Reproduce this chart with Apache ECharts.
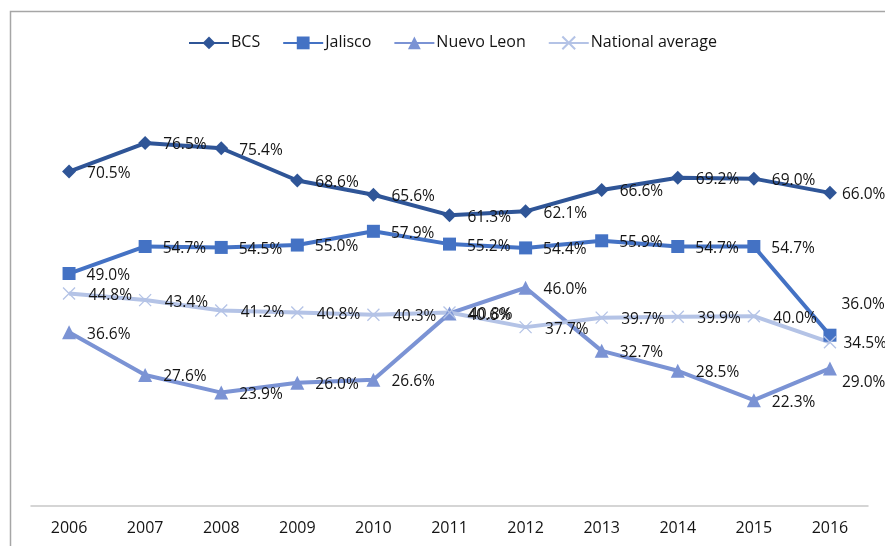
<!DOCTYPE html>
<html>
<head>
<meta charset="utf-8">
<script src="https://cdn.jsdelivr.net/npm/echarts@6/dist/echarts.min.js"></script>
<style>
  html, body { margin: 0; padding: 0; background: #fff; }
  #chart { width: 885px; height: 546px; }
</style>
</head>
<body>
<div id="chart"></div>
<script>
const years = ["2006", "2007", "2008", "2009", "2010", "2011", "2012", "2013", "2014", "2015", "2016"];
const bcs = [70.5, 76.5, 75.4, 68.6, 65.6, 61.3, 62.1, 66.6, 69.2, 69.0, 66.0];
const jalisco = [49.0, 54.7, 54.5, 55.0, 57.9, 55.2, 54.4, 55.9, 54.7, 54.7, 36.0];
const nuevoLeon = [36.6, 27.6, 23.9, 26.0, 26.6, 40.6, 46.0, 32.7, 28.5, 22.3, 29.0];
const national = [44.8, 43.4, 41.2, 40.8, 40.3, 40.8, 37.7, 39.7, 39.9, 40.0, 34.5];

const font = "'Open Sans', 'Noto Sans', sans-serif";
const textColor = "#141414";

// per-point label nudges, the way Excel moved a few of them
const labelShift = {
  "BCS": { 10: [-6, 2] },
  "Jalisco": { 10: [-6, -31] },
  "Nuevo Leon": { 10: [-6, 14] },
  "National average": { 10: [-6, 1] },
};

function makeSeries(name, values, color, symbol, size, extra) {
  const shifts = labelShift[name] || {};
  return Object.assign({
    name,
    type: "line",
    data: values.map((v, i) =>
      shifts[i] ? { value: v, label: { offset: shifts[i] } } : v
    ),
    symbol,
    symbolSize: size,
    lineStyle: { width: 4, color },
    itemStyle: { color },
    label: {
      show: true,
      position: "right",
      distance: 11,
      offset: [0, 2],
      color: textColor,
      fontFamily: font,
      fontSize: 15.5,
      formatter: (p) => p.value.toFixed(1) + "%",
    },
    emphasis: { disabled: true },
    animation: false,
  }, extra || {});
}

function getOptions() {
  return {
    backgroundColor: "#fff",
    graphic: [{
      type: "rect",
      shape: { x: 10.5, y: 11.5, width: 900, height: 600 },
      style: { fill: "none", stroke: "#a6a6a6", lineWidth: 1.5 },
      silent: true,
    }],
    legend: {
      left: 183,
      top: 29,
      itemWidth: 40,
      itemHeight: 16,
      itemGap: 22,
      textStyle: { fontFamily: font, fontSize: 16, color: textColor, padding: [0, 0, 0, -3] },
      data: ["BCS", "Jalisco", "Nuevo Leon", "National average"],
    },
    grid: { left: 31, right: 17, top: 79, bottom: 40 },
    xAxis: {
      type: "category",
      data: years,
      axisLine: { lineStyle: { color: "#c8c8c8", width: 1.5 } },
      axisTick: { show: false },
      axisLabel: { fontFamily: font, fontSize: 16, color: textColor, margin: 14 },
    },
    yAxis: {
      type: "value",
      min: 0,
      max: 90,
      show: false,
      splitLine: { show: false },
    },
    series: [
      makeSeries("BCS", bcs, "#2f5597", "diamond", 14),
      makeSeries("Jalisco", jalisco, "#4472c4", "rect", 13),
      makeSeries("Nuevo Leon", nuevoLeon, "#7b93d4", "triangle", 14),
      makeSeries("National average", national, "#b4c3e6", "path://M0,0L10,10M10,0L0,10", 12, {
        itemStyle: { color: "none", borderColor: "#b4c3e6", borderWidth: 1.3 },
      }),
    ],
  };
}

const chart = echarts.init(document.getElementById("chart"));
chart.setOption(getOptions());
window.addEventListener("resize", () => chart.resize());
</script>
</body>
</html>
